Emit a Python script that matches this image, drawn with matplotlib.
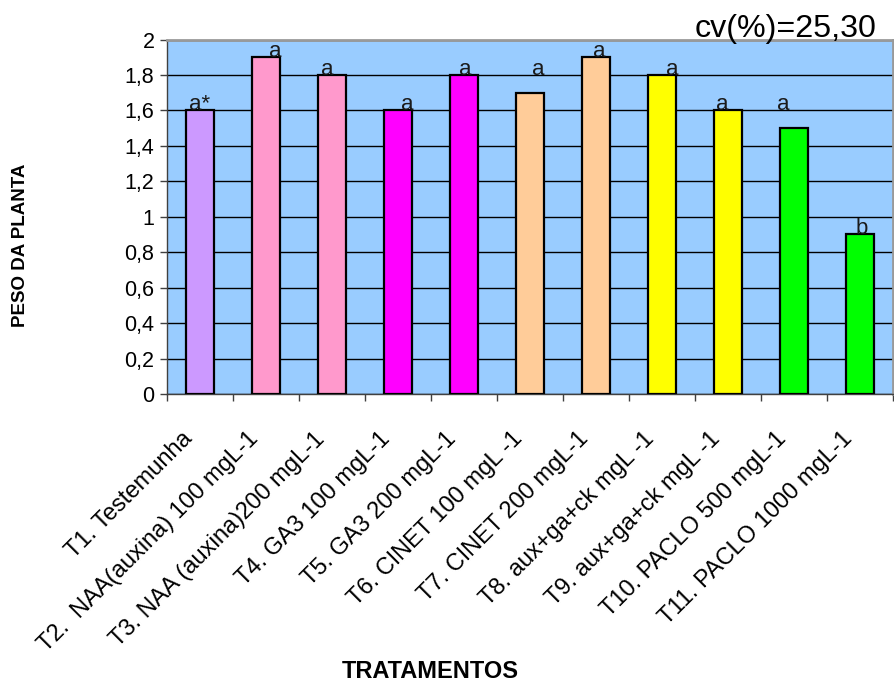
import matplotlib
matplotlib.use("Agg")
import matplotlib.pyplot as plt
import numpy as np
from matplotlib.ticker import FixedLocator
from matplotlib.transforms import ScaledTranslation

plt.rcParams['font.family'] = ['Liberation Sans', 'DejaVu Sans']

# Treatments, mean plant weight and significance letters
tratamentos = [
    "T1. Testemunha",
    "T2.  NAA(auxina) 100 mgL-1",
    "T3. NAA (auxina)200 mgL-1",
    "T4. GA3 100 mgL-1",
    "T5. GA3 200 mgL-1",
    "T6. CINET 100 mgL -1",
    "T7. CINET 200 mgL-1",
    "T8. aux+ga+ck mgL -1",
    "T9. aux+ga+ck mgL -1",
    "T10. PACLO 500 mgL-1",
    "T11. PACLO 1000 mgL-1",
]
peso = [1.6, 1.9, 1.8, 1.6, 1.8, 1.7, 1.9, 1.8, 1.6, 1.5, 0.9]
letras = ["a*", "a", "a", "a", "a", "a", "a", "a", "a", "a", "b"]
cv_text = "cv(%)=25,30"
y_ticks = [0, 0.2, 0.4, 0.6, 0.8, 1.0, 1.2, 1.4, 1.6, 1.8, 2.0]

# Styling
cores = ["#CC99FF", "#FF99CC", "#FF99CC", "#FF00FF", "#FF00FF", "#FFCC99",
         "#FFCC99", "#FFFF00", "#FFFF00", "#00FF00", "#00FF00"]
letra_dx_px = [0, 9, -5, 9, 1, 8, 3, 10, -6, -11, 2]
letra_dy = [0, 0, 0, 0, 0, 0.1, 0, 0, 0, 0.1, 0]

W, H = 895, 684
fig = plt.figure(figsize=(W / 100, H / 100), dpi=100)
ax = fig.add_axes([167 / W, 1 - 394 / H, (893 - 167) / W, (394 - 39.5) / H])
ax.set_facecolor("#99CCFF")

x = np.arange(len(tratamentos))
ax.bar(x, peso, width=0.41, color=cores, edgecolor="black", linewidth=1.6, zorder=3)

ax.set_xlim(-0.5, len(tratamentos) - 0.5)
ax.set_ylim(0, 2)

# horizontal gridlines
ax.set_yticks(y_ticks)
ax.set_yticklabels([("%g" % v).replace(".", ",") for v in y_ticks], fontsize=15.5)
ax.yaxis.grid(True, color="black", linewidth=1.0, zorder=1)
ax.set_axisbelow(True)
ax.tick_params(axis="y", direction="out", length=5, width=1, color="#404040", pad=4)

# category labels at bar centres, tick marks on category boundaries
ax.set_xticks(x)
ax.set_xticklabels(tratamentos, rotation=45, ha="right", va="center",
                   rotation_mode="anchor", fontsize=17)
ax.tick_params(axis="x", which="major", length=0, pad=30)
shift = ScaledTranslation(-0.11, 0, fig.dpi_scale_trans)
for lab in ax.get_xticklabels():
    lab.set_transform(lab.get_transform() + shift)
ax.xaxis.set_minor_locator(FixedLocator(np.arange(-0.5, len(tratamentos), 1.0)))
ax.tick_params(axis="x", which="minor", direction="out", length=5, width=1, color="#404040")

for side in ["left", "bottom"]:
    ax.spines[side].set_color("#404040")
    ax.spines[side].set_linewidth(1.0)
for side in ["top", "right"]:
    ax.spines[side].set_color("#999999")
    ax.spines[side].set_linewidth(2.0)

# significance letters above bars
for xi, v, lt, dx, dy in zip(x, peso, letras, letra_dx_px, letra_dy):
    ax.text(xi + dx / 66.0, v + dy, lt, ha="center", va="baseline",
            fontsize=16, color="#1a1a1a", zorder=4)

fig.text(786 / W, 1 - 37 / H, cv_text, ha="center", va="baseline", fontsize=23.2)
fig.text(21 / W, 1 - 245 / H, "PESO DA PLANTA", rotation=90, ha="center",
         va="center", fontsize=13.5, fontweight="bold")
fig.text(430 / W, 1 - 671 / H, "TRATAMENTOS", ha="center", va="center",
         fontsize=17, fontweight="bold")

fig.savefig("out.png", dpi=100)
